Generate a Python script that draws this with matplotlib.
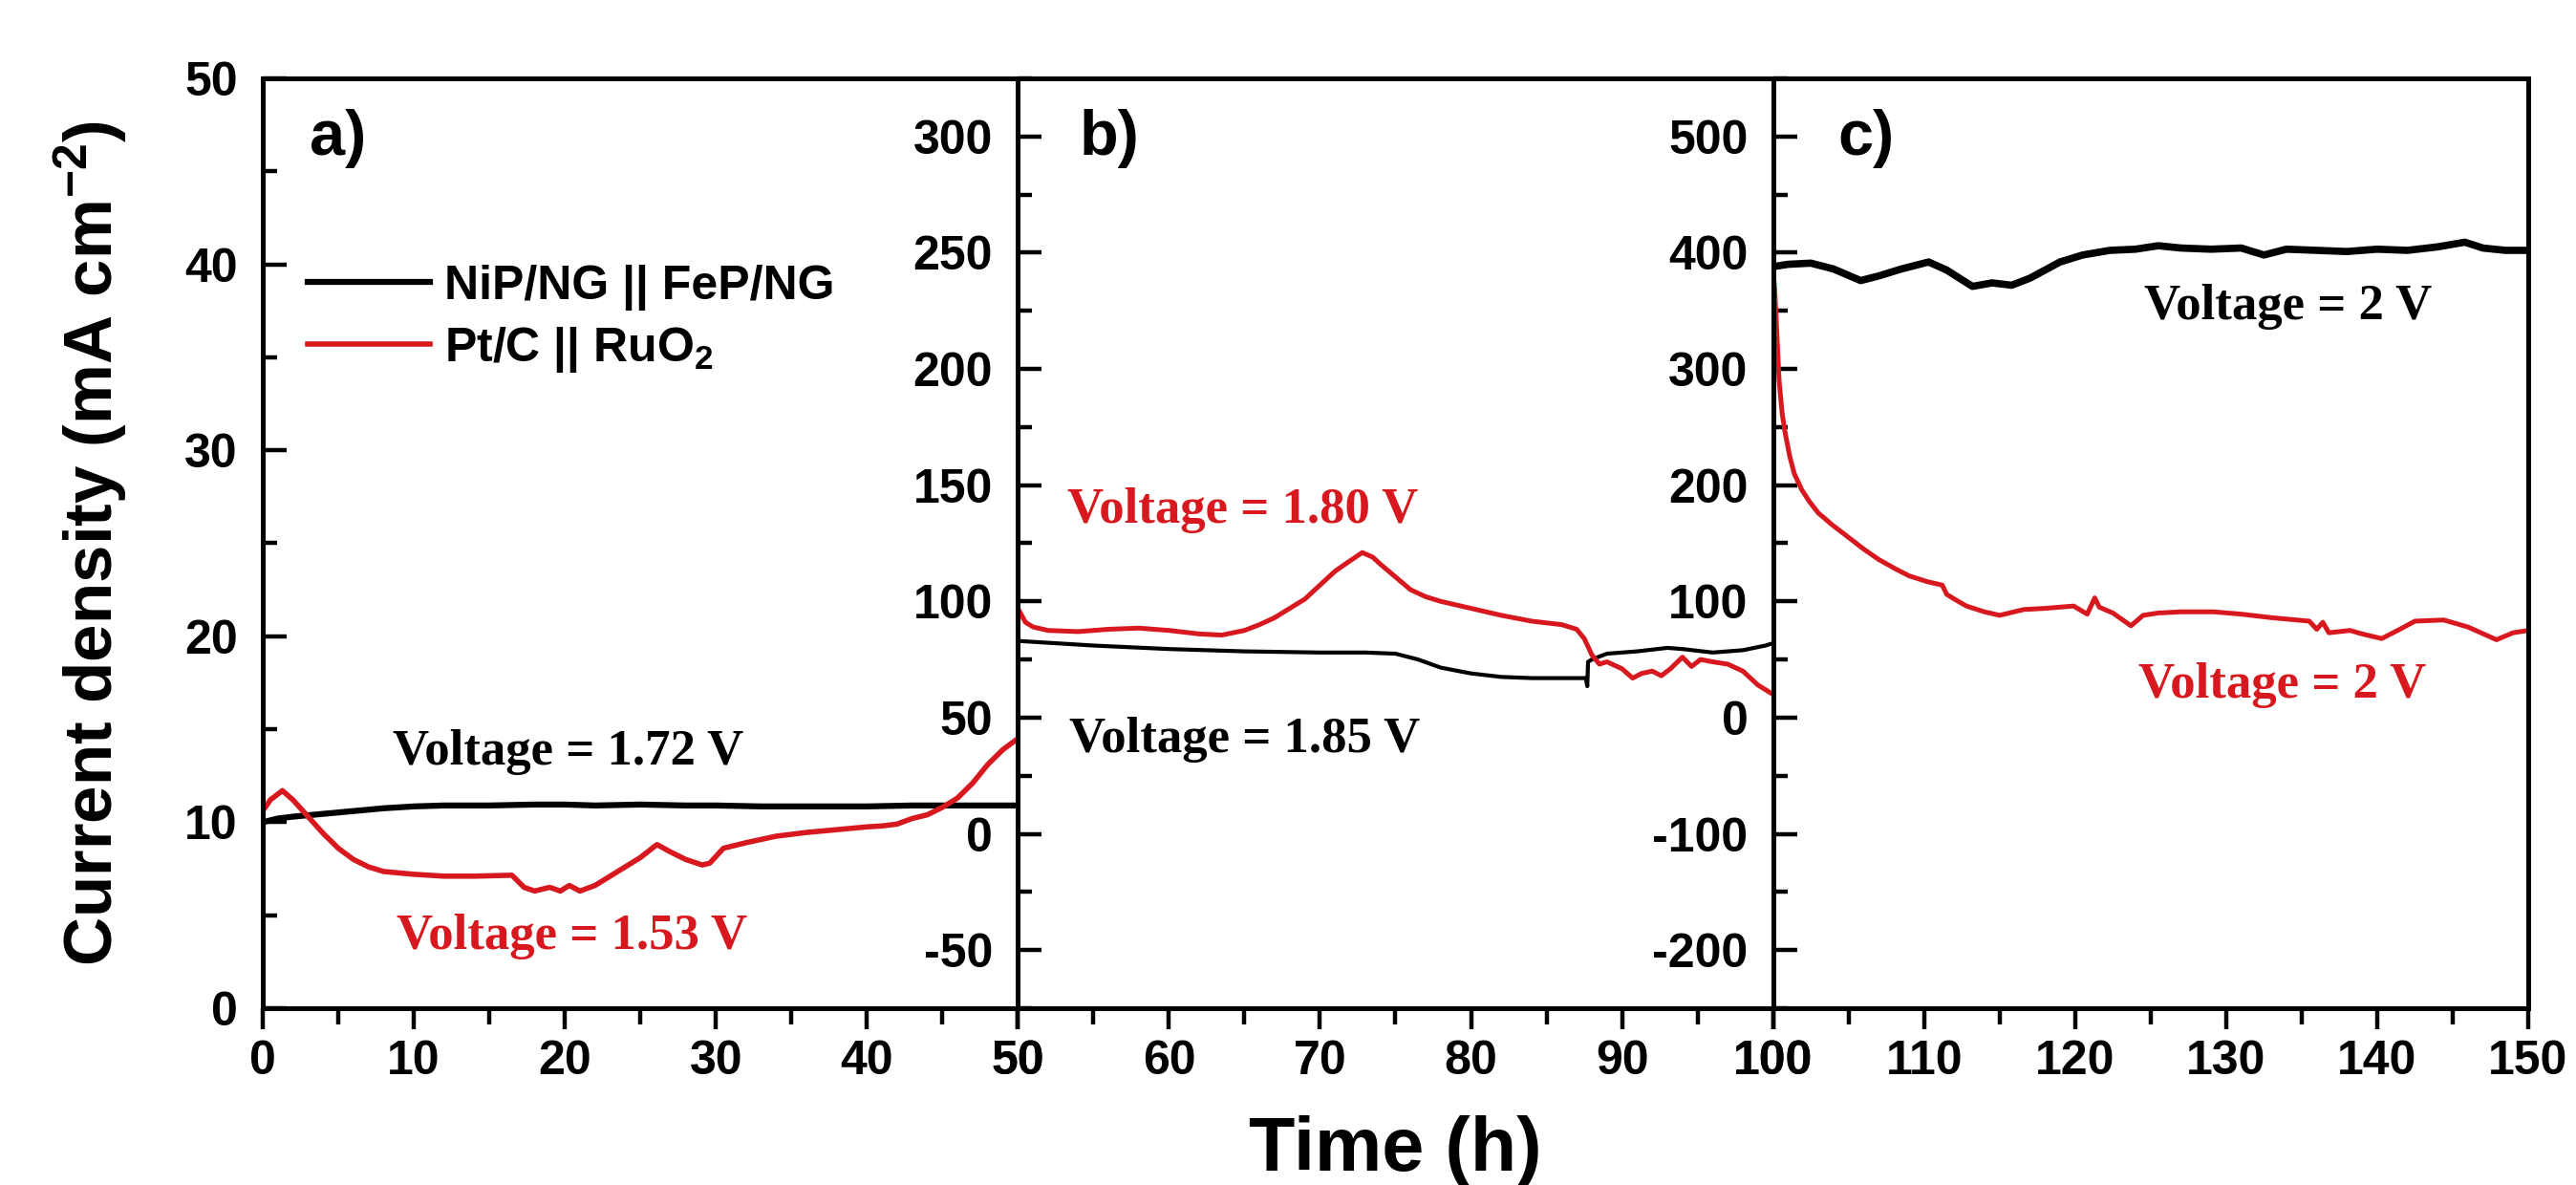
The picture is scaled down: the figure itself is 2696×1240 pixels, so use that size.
import matplotlib
matplotlib.use("Agg")
import matplotlib.pyplot as plt
from matplotlib.ticker import MultipleLocator

plt.rcParams['font.family'] = ['Liberation Sans', 'DejaVu Sans']
plt.rcParams['font.weight'] = 'bold'
plt.rcParams['mathtext.default'] = 'regular'
plt.rcParams['axes.unicode_minus'] = False

RED = '#d7191f'

# <------------------------ panel a (0-50 h) ------------------------>
t_a_black = [0, 1, 2, 4, 6, 8, 10, 12, 15, 18, 20, 22, 25, 28, 30, 33, 35, 38, 40, 43, 45, 48, 50]
j_a_black = [10.0, 10.2, 10.3, 10.45, 10.6, 10.75, 10.85, 10.9, 10.9, 10.95, 10.95, 10.9, 10.95,
             10.9, 10.9, 10.85, 10.85, 10.85, 10.85, 10.9, 10.9, 10.9, 10.9]
t_a_red = [0, 0.5, 1.3, 2, 3, 4, 5, 6, 7, 8, 10, 12, 14, 16.5, 17.3, 18, 19, 19.7, 20.3, 21, 22,
           23, 24, 25, 26.1, 27, 28, 29.1, 29.6, 30.5, 32, 34, 36, 38, 40, 41, 42, 43, 44, 45,
           46, 47, 48, 49, 50]
j_a_red = [10.6, 11.2, 11.7, 11.2, 10.3, 9.4, 8.6, 8.0, 7.6, 7.35, 7.2, 7.1, 7.1, 7.15, 6.5, 6.3,
           6.5, 6.3, 6.6, 6.3, 6.6, 7.1, 7.6, 8.1, 8.8, 8.4, 8.0, 7.7, 7.8, 8.6, 8.9, 9.25, 9.45,
           9.6, 9.75, 9.8, 9.9, 10.2, 10.4, 10.8, 11.3, 12.1, 13.1, 13.9, 14.5]

# <------------------------ panel b (50-100 h) ------------------------>
t_b_black = [50, 55, 60, 65, 70, 73, 75, 76.5, 78, 80, 82, 84, 87.6, 87.7, 87.75, 88, 89, 91, 93,
             94, 96, 98, 99.5, 100]
j_b_black = [83, 81, 79.5, 78.5, 78, 78, 77.5, 75, 71.5, 69, 67.5, 67, 67, 63.5, 74, 75, 77.5,
             78.5, 80, 79.5, 78, 79, 81, 82]
t_b_red = [50, 50.5, 51, 52, 54, 56, 58, 60, 62, 63.5, 65, 66, 67, 68, 69, 70, 71, 72, 72.8, 73.5,
           74, 75, 76, 77, 78, 80, 82, 84, 86, 87, 87.5, 88, 88.5, 89, 90, 90.7, 91.3, 92, 92.6,
           93.2, 94, 94.6, 95.2, 96, 97, 98, 98.5, 99, 99.5, 100]
j_b_red = [97, 91, 89, 87.5, 87, 88, 88.5, 87.5, 86, 85.5, 87.5, 90, 93, 97, 101, 107, 113, 117.5,
           121, 119, 116, 110.5, 105, 102, 100, 97, 94, 91.5, 90, 88, 84, 77, 73, 74, 71, 67, 69,
           70, 68, 71, 76, 72, 75, 74, 73, 70, 67, 64, 62, 60]

# <------------------------ panel c (100-150 h) ------------------------>
t_c_black = [100, 101, 102.5, 104, 105.8, 107, 108.5, 110.3, 111.5, 113.2, 114.5, 115.8, 117, 119,
             120.5, 122.3, 124, 125.5, 127, 129, 131, 132.5, 134, 136, 138, 140, 142, 144, 145.8,
             147, 148.5, 150]
j_c_black = [388, 390, 391, 386, 376, 380, 386, 392, 385, 371, 374, 372, 378, 392, 398, 402, 403,
             406, 404, 403, 404, 398, 403, 402, 401, 403, 402, 405, 409, 404, 402, 402]
t_c_red = [100, 100.1, 100.2, 100.4, 100.6, 100.8, 101.1, 101.4, 101.9, 102.4, 103, 103.9, 105,
           106, 107, 108.1, 109, 110.2, 111.2, 111.5, 112, 112.8, 114, 115, 116.6, 118, 119.9,
           120.8, 121.3, 121.6, 122.5, 123.7, 124.5, 125.5, 127, 129.2, 131, 133, 135.5, 136,
           136.4, 136.8, 138.2, 139, 140.3, 141.5, 142.5, 144.4, 146, 147.9, 149, 150]
j_c_red = [385, 370, 345, 290, 262, 245, 225, 210, 196, 186, 176, 166, 155, 145, 136, 128, 122,
           117, 114, 106, 102, 96, 91, 88, 93, 94, 96, 89, 103, 95, 90, 79, 88, 90, 91, 91, 89, 86,
           83, 76, 82, 73, 75, 72, 68, 76, 83, 84, 78, 67, 73, 75]

series_names = ['NiP/NG || FeP/NG', 'Pt/C || RuO$_2$']

fig = plt.figure(figsize=(26.96, 12.4), dpi=100)
w = 0.29315
bottom, height = 0.1492, 0.7847
ax_a = fig.add_axes([0.1020, bottom, w, height])
ax_b = fig.add_axes([0.1020 + w, bottom, w, height])
ax_c = fig.add_axes([0.1020 + 2 * w, bottom, w, height])

ax_a.plot(t_a_black, j_a_black, color='black', lw=4.5, label=series_names[0])
ax_a.plot(t_a_red, j_a_red, color=RED, lw=4.0, label=series_names[1])
ax_b.plot(t_b_black, j_b_black, color='black', lw=3.0)
ax_b.plot(t_b_red, j_b_red, color=RED, lw=3.6)
ax_c.plot(t_c_black, j_c_black, color='black', lw=5.5)
ax_c.plot(t_c_red, j_c_red, color=RED, lw=3.6)

setup = [(ax_a, (0, 50), (0, 50), 10, 5),
         (ax_b, (50, 100), (-75, 325), 50, 25),
         (ax_c, (100, 150), (-250, 550), 100, 50)]
for ax, xl, yl, ymaj, ymin in setup:
    ax.set_xlim(*xl)
    ax.set_ylim(*yl)
    ax.xaxis.set_major_locator(MultipleLocator(10))
    ax.xaxis.set_minor_locator(MultipleLocator(5))
    ax.yaxis.set_major_locator(MultipleLocator(ymaj))
    ax.yaxis.set_minor_locator(MultipleLocator(ymin))
    if ax is ax_b:
        ax.set_yticks([-50, 0, 50, 100, 150, 200, 250, 300])
    if ax is ax_c:
        ax.set_yticks([-200, -100, 0, 100, 200, 300, 400, 500])
    for s in ax.spines.values():
        s.set_linewidth(3.6)
    ax.tick_params(axis='x', which='major', direction='out', length=16, width=3.2,
                   pad=8, labelsize=36)
    ax.tick_params(axis='x', which='minor', direction='out', length=12, width=3.2)
    ax.tick_params(axis='y', which='major', direction='in', length=18, width=3.2,
                   pad=19, labelsize=36)
    ax.tick_params(axis='y', which='minor', direction='in', length=11, width=3.2)

# panel labels
for ax, lab, x in [(ax_a, 'a)', 0.062), (ax_b, 'b)', 0.082), (ax_c, 'c)', 0.086)]:
    ax.text(x, 0.918, lab, transform=ax.transAxes, fontsize=48, fontweight='bold',
            va='baseline', ha='left')

# voltage notes
serif = dict(family='Liberation Serif', fontweight='bold', fontsize=38, ha='center', va='baseline')
ax_a.text(20.2, 13.1, 'Voltage = 1.72 V', color='black', **serif)
ax_a.text(20.5, 3.2, 'Voltage = 1.53 V', color=RED, **serif)
ax_b.text(64.9, 134, 'Voltage = 1.80 V', color=RED, **serif)
ax_b.text(65.0, 35, 'Voltage = 1.85 V', color='black', **serif)
ax_c.text(134.1, 343, 'Voltage = 2 V', color='black', **serif)
ax_c.text(133.7, 17, 'Voltage = 2 V', color=RED, **serif)

ax_a.legend(loc='upper left', bbox_to_anchor=(0.0595, 0.80), frameon=False, fontsize=36,
            handlelength=2.55, handletextpad=0.31, labelspacing=0.3, borderpad=0,
            borderaxespad=0)

fig.text(0.0352, 0.5417, 'Current density (mA cm$^{-2}$)', rotation=90, fontsize=51,
         fontweight='bold', ha='center', va='center')
fig.text(0.5415, 0.012, 'Time (h)', fontsize=57, fontweight='bold', ha='center', va='baseline')

fig.savefig('out.png', dpi=100)
